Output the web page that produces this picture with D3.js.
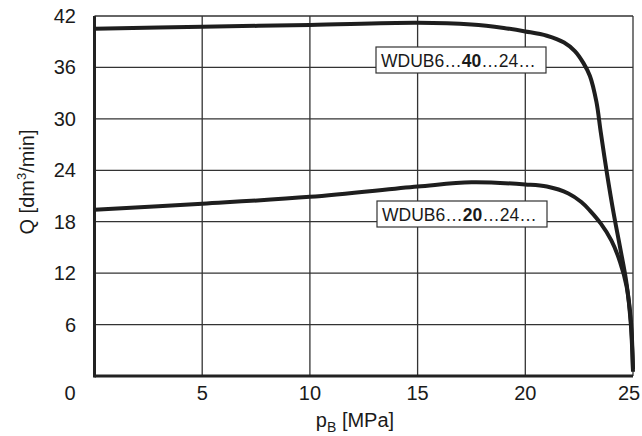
<!DOCTYPE html>
<html>
<head>
<meta charset="utf-8">
<script src="https://cdn.jsdelivr.net/npm/d3@7"></script>
<style>
  body { margin: 0; background: #fff; }
  text { font-family: "Liberation Sans", Arial, sans-serif; fill: #1a1a1a; }
</style>
</head>
<body>
<div id="chart"></div>
<script>
var width = 642,
    height = 436;
var margin = {left: 94.5, right: 9, top: 16, bottom: 60};

// pressure p_B [MPa] / flow Q [dm3/min]
var xTicks = [5, 10, 15, 20, 25];
var yTicks = [6, 12, 18, 24, 30, 36, 42];

var p40 = [0, 5, 10, 15, 17.5, 19, 20, 21, 21.8, 22.3, 22.7, 23, 23.3, 23.5, 23.8, 24.1, 24.4, 24.7, 24.9, 25];
var q40 = [40.5, 40.75, 40.95, 41.2, 41.0, 40.6, 40.2, 39.7, 38.9, 37.9, 36.5, 35, 32, 28.5, 23.5, 19, 15, 10.8, 6, 0.5];

var p20 = [0, 5, 10, 15, 17.5, 20, 21, 22, 22.6, 23, 23.5, 24, 24.4, 24.7, 24.9, 25];
var q20 = [19.4, 20.1, 20.9, 22.1, 22.6, 22.35, 22.1, 21.3, 20.3, 19.3, 17.8, 15.8, 13.3, 10.5, 6.5, 0.8];

var curves = [
    {id: "40", p: p40, q: q40, lx: 376, ly: 47},
    {id: "20", p: p20, q: q20, lx: 377, ly: 201}
];

var x = d3.scaleLinear().domain([0, 25]).range([margin.left, width - margin.right]);
var y = d3.scaleLinear().domain([0, 42]).range([height - margin.bottom, margin.top]);

var svg = d3.select("#chart").append("svg")
    .attr("width", width)
    .attr("height", height);

// grid
svg.append("g").selectAll("line")
    .data(xTicks)
    .enter().append("line")
    .attr("x1", function (d) { return x(d); })
    .attr("x2", function (d) { return x(d); })
    .attr("y1", y(0))
    .attr("y2", y(42))
    .style("stroke", "#333")
    .style("stroke-width", 1.3);

svg.append("g").selectAll("line")
    .data(yTicks)
    .enter().append("line")
    .attr("x1", x(0))
    .attr("x2", x(25))
    .attr("y1", function (d) { return y(d); })
    .attr("y2", function (d) { return y(d); })
    .style("stroke", "#333")
    .style("stroke-width", 1.3);

// main axes (thick left + bottom)
svg.append("line")
    .attr("x1", x(0)).attr("x2", x(0))
    .attr("y1", y(0) + 1.5).attr("y2", y(42))
    .style("stroke", "#222").style("stroke-width", 3);
svg.append("line")
    .attr("x1", x(0)).attr("x2", x(25))
    .attr("y1", y(0)).attr("y2", y(0))
    .style("stroke", "#222").style("stroke-width", 3);

// curves
var line = d3.line()
    .x(function (d) { return x(d[0]); })
    .y(function (d) { return y(d[1]); })
    .curve(d3.curveCatmullRom.alpha(0.5));

curves.forEach(function (c) {
    var pts = c.p.map(function (v, i) { return [v, c.q[i]]; });
    svg.append("path")
        .attr("d", line(pts))
        .attr("fill", "none")
        .style("stroke", "#1e1e1e")
        .style("stroke-width", 4)
        .style("stroke-linejoin", "round");
});

// labels
curves.forEach(function (c) {
    svg.append("rect")
        .attr("x", c.lx).attr("y", c.ly)
        .attr("width", 170).attr("height", 26)
        .attr("fill", "#fff")
        .style("stroke", "#333")
        .style("stroke-width", 1.2);
    var t = svg.append("text")
        .attr("x", c.lx + 5)
        .attr("y", c.ly + 20)
        .attr("font-size", 17.5);
    t.append("tspan").text("WDUB6…");
    t.append("tspan").attr("font-weight", "bold").text(c.id);
    t.append("tspan").text("…24…");
});

// tick labels
svg.append("g").selectAll("text")
    .data(yTicks)
    .enter().append("text")
    .attr("x", 76)
    .attr("y", function (d) { return y(d) + 7; })
    .attr("text-anchor", "end")
    .attr("font-size", 20)
    .text(function (d) { return d; });

svg.append("text")
    .attr("x", 70).attr("y", 400)
    .attr("text-anchor", "middle")
    .attr("font-size", 20)
    .text("0");

svg.append("g").selectAll("text")
    .data(xTicks)
    .enter().append("text")
    .attr("x", function (d) { return Math.min(x(d), 629); })
    .attr("y", 400)
    .attr("text-anchor", "middle")
    .attr("font-size", 20)
    .text(function (d) { return d; });

// axis titles
var xt = svg.append("text")
    .attr("x", 355).attr("y", 427)
    .attr("text-anchor", "middle")
    .attr("font-size", 20);
xt.append("tspan").text("p");
xt.append("tspan").attr("font-size", 14).attr("dy", 5).text("B");
xt.append("tspan").attr("dy", -5).text(" [MPa]");

var yt = svg.append("text")
    .attr("transform", "translate(34,182) rotate(-90)")
    .attr("text-anchor", "middle")
    .attr("font-size", 20);
yt.append("tspan").text("Q [dm");
yt.append("tspan").attr("font-size", 13).attr("dy", -8).text("3");
yt.append("tspan").attr("dy", 8).text("/min]");
</script>
</body>
</html>
